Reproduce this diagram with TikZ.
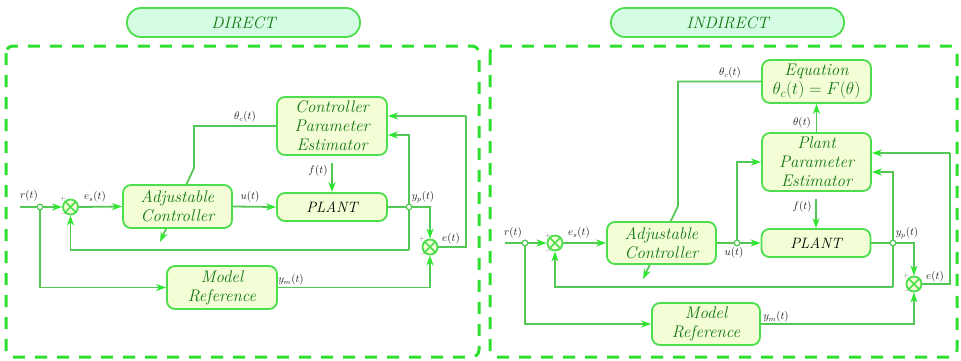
\documentclass[tikz,border=0pt]{standalone}
\usepackage{fontspec}
\usetikzlibrary{arrows.meta,calc}

\definecolor{dashgreen}{RGB}{46,224,46}
\definecolor{boxline}{RGB}{76,222,76}
\definecolor{boxfill}{RGB}{243,253,214}
\definecolor{pillfill}{RGB}{213,253,227}
\definecolor{txtgreen}{RGB}{18,120,18}
\definecolor{conn}{RGB}{84,200,84}
\definecolor{tipgreen}{RGB}{45,230,45}
\definecolor{lbl}{RGB}{30,30,30}

\newcommand\blocktext{\fontsize{16.8}{19}\selectfont\itshape}
\newcommand\titletext{\fontsize{16.5}{19}\selectfont\itshape}
\newcommand\lbltext{\fontsize{10.5}{12}\selectfont}

\tikzset{
  panel/.style={draw=dashgreen, line width=3pt, dash pattern=on 12pt off 10pt, rounded corners=7pt},
  pill/.style={draw=boxline, fill=pillfill, line width=1.8pt, rounded corners=14pt,
    minimum width=233pt, minimum height=29pt, inner sep=0pt, text=txtgreen, font=\titletext},
  block/.style={draw=boxline, fill=boxfill, line width=1.8pt, rounded corners=8pt,
    inner sep=0pt, align=center, text=txtgreen, font=\blocktext},
  plantbox/.style={block, text=black, font=\fontsize{15}{19}\selectfont\itshape},
  sumnode/.style={circle, draw=boxline, fill=boxfill, line width=1.8pt, minimum size=15pt, inner sep=0pt},
  tap/.style={circle, draw=conn, fill=white, line width=1.1pt, minimum size=5.5pt, inner sep=0pt},
  wire/.style={draw=conn, line width=1.8pt},
  arr/.style={wire, -{Stealth[length=10pt, width=7pt, inset=3pt, color=tipgreen]}},
  sig/.style={text=lbl, font=\lbltext, inner sep=1pt},
  sign/.style={text=gray, font=\fontsize{7}{8}\selectfont, inner sep=0pt},
}

\newcommand\crosssum[1]{%
  \draw[boxline, line width=1.6pt] (#1.45) -- (#1.225) (#1.135) -- (#1.315);}

\begin{document}
\begin{tikzpicture}[x=1pt, y=-1pt]
\useasboundingbox (0,0) rectangle (961,360);

% ---------- panel frames and titles ----------
\draw[panel] (6,46) rectangle (479,357);
\draw[panel] (490,46) rectangle (957,357);
\node[pill] (tdirect) at (243.5,22.5) {DIRECT};
\node[pill] (tindirect) at (727.5,22.5) {INDIRECT};

% ================= DIRECT scheme =================
\node[block, minimum width=110pt, minimum height=58pt] (cpe) at (332,126)
  {Controller\\Parameter\\Estimator};
\node[plantbox, minimum width=110pt, minimum height=28pt] (plant) at (332,207) {PLANT};
\node[block, minimum width=110pt, minimum height=43pt] (mref) at (222,287.5)
  {Model\\Reference};
\node[sumnode] (s1) at (70.5,207) {}; \crosssum{s1}
\node[sumnode] (s2) at (430,247) {}; \crosssum{s2}

\coordinate (rin) at (20,207);
\coordinate (fin) at (332,163);
\coordinate (fb) at (409,250);
\coordinate (eright) at (466,247);
\coordinate (etop) at (466,116);
\coordinate (ein) at ($(cpe.east)+(0,-10)$);
\coordinate (yin) at ($(cpe.east)+(0,9)$);
\coordinate (thA) at (194,126);
\coordinate (thB) at (194,168);
\coordinate (adj) at (160,242);

% adjustment arrow, passing behind the controller block
\draw[arr] (cpe.west) -- (thA) -- (thB) -- (adj);
\node[block, minimum width=109pt, minimum height=43pt] (ctrl) at (177.5,206.5)
  {Adjustable\\Controller};

\node[tap] (dr) at (40,207) {};
\node[tap] (dy) at (409,207) {};

\draw[wire] (rin) -- (dr);
\draw[arr] (dr) -- (s1.west);
\draw[arr] (s1.east) -- (ctrl.west);
\draw[arr] (ctrl.east) -- (plant.west);
\draw[wire] (plant.east) -- (dy);
\draw[arr] (dy) -| (s2.north);
\draw[wire] (dy) -- (fb);
\draw[arr] (fb) -| (s1.south);
\draw[arr] (dr) |- (mref.west);
\draw[arr] (mref.east) -| (s2.south);
\draw[wire] (s2.east) -- (eright) -- (etop);
\draw[arr] (etop) -- (ein);
\draw[arr] (dy) |- (yin);
\draw[arr] (fin) -- (plant.north);
\node[tap] (dr') at (dr) {};
\node[tap] (dy') at (dy) {};

\node[sig] (lr1) at (29,196) {$r(t)$};
\node[sig] (les1) at (95,197) {$e_s(t)$};
\node[sig] (lu1) at (250,197) {$u(t)$};
\node[sig] (lyp1) at (423,197) {$y_p(t)$};
\node[sig] (lth1) at (245,117) {$\theta_c(t)$};
\node[sig] (lf1) at (318,171) {$f(t)$};
\node[sig] (lym1) at (291,280) {$y_m(t)$};
\node[sig] (le1) at (451,239) {$e(t)$};
\node[sign] (p1) at (63,199) {+};
\node[sign] (m1) at (64,214) {$-$};
\node[sign] (p2) at (422,239) {+};
\node[sign] (m2) at (423,254) {$-$};

% ================= INDIRECT scheme =================
\node[block, minimum width=109pt, minimum height=43pt] (eq) at (816.5,81.5)
  {Equation\\$\theta_c(t) = F(\theta)$};
\node[block, minimum width=109pt, minimum height=58pt] (ppe) at (816.5,162)
  {Plant\\Parameter\\Estimator};
\node[plantbox, minimum width=109pt, minimum height=28pt] (plant2) at (816,243) {PLANT};
\node[block, minimum width=108pt, minimum height=42pt] (mref2) at (706,324)
  {Model\\Reference};
\node[sumnode] (s3) at (555,243) {}; \crosssum{s3}
\node[sumnode] (s4) at (914,284) {}; \crosssum{s4}

\coordinate (rin2) at (505,243);
\coordinate (fin2) at (816,199);
\coordinate (fb2) at (893,287);
\coordinate (eright2) at (950,284);
\coordinate (etop2) at (950,153);
\coordinate (ein2) at ($(ppe.east)+(0,-9)$);
\coordinate (yin2) at ($(ppe.east)+(0,10)$);
\coordinate (thA2) at (678,81.5);
\coordinate (thB2) at (678,206);
\coordinate (adj2) at (643,279);

\draw[arr] (eq.west) -- (thA2) -- (thB2) -- (adj2);
\node[block, minimum width=109pt, minimum height=42pt] (ctrl2) at (661.5,243)
  {Adjustable\\Controller};

\node[tap] (dr2) at (525,243) {};
\node[tap] (du2) at (737,243) {};
\node[tap] (dy2) at (893,243) {};

\draw[wire] (rin2) -- (dr2);
\draw[arr] (dr2) -- (s3.west);
\draw[arr] (s3.east) -- (ctrl2.west);
\draw[wire] (ctrl2.east) -- (du2);
\draw[arr] (du2) -- (plant2.west);
\draw[arr] (du2) |- (ppe.west);
\draw[wire] (plant2.east) -- (dy2);
\draw[arr] (dy2) -| (s4.north);
\draw[wire] (dy2) -- (fb2);
\draw[arr] (fb2) -| (s3.south);
\draw[arr] (dr2) |- (mref2.west);
\draw[arr] (mref2.east) -| (s4.south);
\draw[wire] (s4.east) -- (eright2) -- (etop2);
\draw[arr] (etop2) -- (ein2);
\draw[arr] (dy2) |- (yin2);
\draw[arr] (fin2) -- (plant2.north);
\draw[arr] (ppe.north) -- (eq.south);
\node[tap] (dr2') at (dr2) {};
\node[tap] (du2') at (du2) {};
\node[tap] (dy2') at (dy2) {};

\node[sig] (lr2) at (513,233) {$r(t)$};
\node[sig] (les2) at (579,233) {$e_s(t)$};
\node[sig] (lu2) at (734,253) {$u(t)$};
\node[sig] (lyp2) at (907,233) {$y_p(t)$};
\node[sig] (lth2) at (730,73) {$\theta_c(t)$};
\node[sig] (ltheta) at (802,123) {$\theta(t)$};
\node[sig] (lf2) at (802,207) {$f(t)$};
\node[sig] (lym2) at (776,317) {$y_m(t)$};
\node[sig] (le2) at (935,277) {$e(t)$};
\node[sign] (p3) at (548,236) {+};
\node[sign] (m3) at (548,251) {$-$};
\node[sign] (p4) at (906,276) {+};
\node[sign] (m4) at (907,291) {$-$};
\end{tikzpicture}
\end{document}
